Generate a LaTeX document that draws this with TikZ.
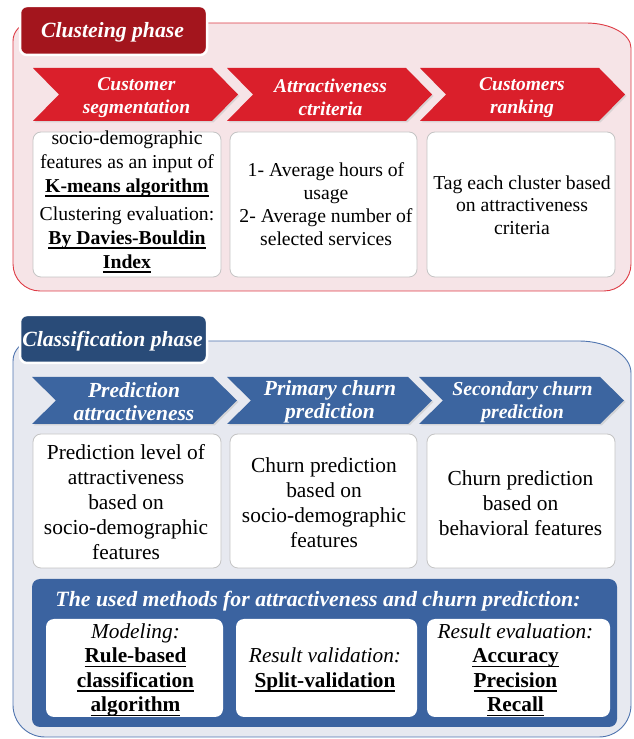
\documentclass[tikz,border=0pt]{standalone}
\usepackage{fontspec}
\setmainfont{Liberation Serif}
\definecolor{pinkfill}{HTML}{F6E4E7}
\definecolor{redborder}{HTML}{DE3C46}
\definecolor{redtab}{HTML}{A3151D}
\definecolor{redchev}{HTML}{DA1F2B}
\definecolor{bluefill}{HTML}{E7E9F0}
\definecolor{blueborder}{HTML}{4F74AF}
\definecolor{bluetab}{HTML}{294B78}
\definecolor{bluechev}{HTML}{3C65A0}
\definecolor{methodsfill}{HTML}{3B63A0}
\definecolor{boxborder}{HTML}{C4C4C4}
\newcommand\bul[1]{\setbox0\hbox{\bfseries #1}\rlap{\rule[-4.5pt]{\wd0}{1.6pt}}\box0}
\newcommand\fsz[2]{\fontsize{#1}{#2}\selectfont}
% #1 left x, #2 depth, #3 width, #4 top Y, #5 bottom Y, #6 options
\newcommand\chevpath[6]{%
  \fill[#6] (#1,#4) -- ({#1+#3-#2},#4) -- ({#1+#3},{(#4+#5)/2}) -- ({#1+#3-#2},#5) -- (#1,#5) -- ({#1+#2},{(#4+#5)/2}) -- cycle;}
\newcommand\chevron[6]{%
  \chevpath{#1}{#2}{#3}{#4}{#5}{black!22,opacity=0.6,shift={(1.5pt,-1.5pt)}}%
  \chevpath{#1}{#2}{#3}{#4}{#5}{#6}}
\begin{document}
\begin{tikzpicture}[x=1pt,y=1pt,
  tabbox/.style={draw=white,line width=2.5pt,rounded corners=7pt,inner sep=0pt,
    minimum width=187pt},
  tabtext/.style={text=white,inner sep=0pt,font=\fsz{21.7}{24}\bfseries\itshape},
  chevtext/.style={text=white,align=center,inner sep=0pt},
  wbox/.style={draw=boxborder,fill=white,line width=0.8pt,rounded corners=8pt,inner sep=0pt},
  mbox/.style={fill=white,rounded corners=8pt,inner sep=0pt},
  btext/.style={align=center,inner sep=0pt,text=black}]
\useasboundingbox (0,0) rectangle (633,739);

% ---------- Clustering panel ----------
\filldraw[fill=pinkfill,draw=redborder,line width=0.9pt]
  (13,698) -- (13,475) arc[start angle=180,end angle=270,radius=27pt]
  -- (604,448) arc[start angle=270,end angle=360,radius=27pt]
  -- (631,691) arc[start angle=0,end angle=90,x radius=45pt,y radius=25pt]
  -- (31,716) arc[start angle=90,end angle=180,radius=18pt] -- cycle;
\node[tabbox,fill=redtab,minimum height=49pt] (t1) at (113.5,708.5) {};
\node[tabtext] (t1t) at (112.5,706.5) {Clusteing phase};

\chevron{33}{26}{205}{671}{618}{redchev}
\chevron{227}{26}{205}{671}{618}{redchev}
\chevron{420}{26}{205}{671}{618}{redchev}
\node[chevtext,font=\fsz{19.5}{23}\bfseries\itshape] (c11) at (136.5,641.5) {Customer\\segmentation};
\node[chevtext,font=\fsz{19.5}{23}\bfseries\itshape] (c12) at (330.5,641.5) {Attractiveness\\ctriteria};
\node[chevtext,font=\fsz{19.5}{23}\bfseries\itshape] (c13) at (522,641.5) {Customers\\ranking};

\node[wbox,minimum width=188pt,minimum height=145pt] (b11) at (127,534.5) {};
\node[wbox,minimum width=187pt,minimum height=145pt] (b12) at (323.5,534.5) {};
\node[wbox,minimum width=188pt,minimum height=145pt] (b13) at (521,534.5) {};
\node[btext,font=\fsz{19.7}{24}] (x11) at (127,537)
  {socio-demographic\\features as an input of\\\bul{K-means algorithm}\\[4pt]Clustering evaluation:\\\bul{By Davies-Bouldin}\\\bul{Index}};
\node[btext,font=\fsz{19.7}{22.8}] (x12) at (326,535)
  {1- Average hours of\\usage\\2- Average number of\\selected services};
\node[btext,font=\fsz{19.7}{22.5}] (x13) at (522,534)
  {Tag each cluster based\\on attractiveness\\criteria};

% ---------- Classification panel ----------
\filldraw[fill=bluefill,draw=blueborder,line width=0.9pt]
  (13,378) -- (13,34) arc[start angle=180,end angle=270,radius=32pt]
  -- (599,2) arc[start angle=270,end angle=360,radius=32pt]
  -- (631,366) arc[start angle=0,end angle=90,x radius=52pt,y radius=32pt]
  -- (33,398) arc[start angle=90,end angle=180,radius=20pt] -- cycle;
\node[tabbox,fill=bluetab,minimum height=48pt] (t2) at (113.5,400) {};
\node[tabtext] (t2t) at (112.5,398) {Classification phase};

\chevron{32}{24}{205}{362}{315}{bluechev}
\chevron{227}{24}{205}{362}{315}{bluechev}
\chevron{419}{24}{205}{362}{315}{bluechev}
\node[chevtext,font=\fsz{21.5}{23}\bfseries\itshape] (c21) at (134,337) {Prediction\\attractiveness};
\node[chevtext,font=\fsz{21.5}{23}\bfseries\itshape] (c22) at (330,337) {Primary churn\\prediction};
\node[chevtext,font=\fsz{19.8}{23}\bfseries\itshape] (c23) at (522.5,337) {Secondary churn\\prediction};

\node[wbox,minimum width=188pt,minimum height=134pt] (b21) at (127,238) {};
\node[wbox,minimum width=187pt,minimum height=134pt] (b22) at (323.5,238) {};
\node[wbox,minimum width=188pt,minimum height=134pt] (b23) at (521,238) {};
\node[btext,font=\fsz{21.4}{25}] (x21) at (126,237)
  {Prediction level of\\attractiveness\\based on\\socio-demographic\\features};
\node[btext,font=\fsz{21.4}{25}] (x22) at (324,236)
  {Churn prediction\\based on\\socio-demographic\\features};
\node[btext,font=\fsz{21.4}{25}] (x23) at (520.5,236)
  {Churn prediction\\based on\\behavioral features};

% ---------- Methods panel ----------
\node[fill=methodsfill,rounded corners=8pt,minimum width=585pt,minimum height=148pt,inner sep=0pt] (mp) at (324.5,86) {};
\node[text=white,inner sep=0pt,font=\fsz{21.8}{24}\bfseries\itshape] (mt) at (318,138)
  {The used methods for attractiveness and churn prediction:};
\node[mbox,minimum width=177pt,minimum height=98pt] (m1) at (134.5,71) {};
\node[mbox,minimum width=181pt,minimum height=98pt] (m2) at (326.5,71) {};
\node[mbox,minimum width=183pt,minimum height=98pt] (m3) at (518.5,71) {};
\node[btext,font=\fsz{21.3}{24.5}] (y1) at (135.5,69)
  {\textit{Modeling:}\\\bul{Rule-based}\\\bul{classification}\\\bul{algorithm}};
\node[btext,font=\fsz{21.3}{24.5}] (y2) at (325,69)
  {\textit{Result validation:}\\\bul{Split-validation}};
\node[btext,font=\fsz{21.3}{24.5}] (y3) at (515.5,69)
  {\textit{Result evaluation:}\\\bul{Accuracy}\\\bul{Precision}\\\bul{Recall}};
\end{tikzpicture}
\end{document}
